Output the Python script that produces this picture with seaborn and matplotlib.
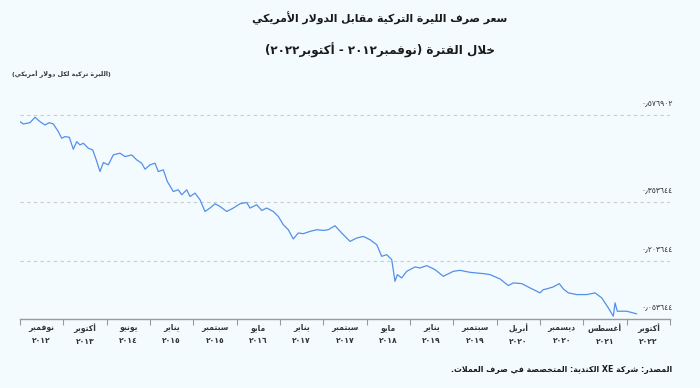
import re
import numpy as np
import pandas as pd
import matplotlib
matplotlib.use("Agg")
import matplotlib.pyplot as plt
import seaborn as sns

sns.set_theme(style="white")
plt.rcParams["font.family"] = ["DejaVu Sans"]

# months since Nov 2012 and USD per TRY
months = [0, 0.64, 1.93, 2.89, 3.86, 4.82, 5.65, 6.42, 7.39, 8.04, 8.68, 9.51, 10.28, 10.94,
          11.57, 12.21, 13.17, 14.02, 14.66, 15.43, 16.07, 17.03, 17.99, 19.29, 20.25, 21.54,
          22.51, 23.47, 24.11, 25.07, 26.04, 26.67, 27.64, 28.41, 29.57, 30.53, 31.19, 32.15,
          32.79, 33.75, 34.72, 35.68, 36.64, 37.61, 38.57, 39.86, 41.14, 42.43, 43.72, 44.36,
          45.65, 46.62, 47.58, 48.85, 49.82, 50.78, 51.75, 52.71, 53.67, 54.64, 55.93, 57.22,
          58.50, 59.46, 60.75, 62.04, 63.65, 64.94, 66.21, 67.50, 68.80, 69.76, 70.72, 71.69,
          72.32, 72.77, 73.62, 74.58, 76.18, 77.15, 78.44, 80.04, 81.64, 83.57, 84.86, 86.79,
          89.35, 90.65, 92.57, 94.18, 95.14, 96.76, 98.36, 100.29, 100.93, 101.58, 102.86,
          104.01, 104.78, 105.75, 107.37, 109.30, 110.90, 112.19, 113.46, 114.43, 114.76,
          115.20, 117.02, 118.94]
rate = [0.5608, 0.5549, 0.5582, 0.5721, 0.5608, 0.5523, 0.5582, 0.5549, 0.5352, 0.5183,
        0.5224, 0.5208, 0.4900, 0.5095, 0.5011, 0.5054, 0.4926, 0.4882, 0.4644, 0.4326,
        0.4557, 0.4498, 0.4754, 0.4798, 0.4710, 0.4754, 0.4626, 0.4541, 0.4387, 0.4498,
        0.4541, 0.4326, 0.4370, 0.4070, 0.3813, 0.3857, 0.3729, 0.3857, 0.3685, 0.3772,
        0.3600, 0.3300, 0.3388, 0.3498, 0.3429, 0.3300, 0.3388, 0.3498, 0.3531, 0.3388,
        0.3472, 0.3326, 0.3388, 0.3300, 0.3172, 0.2959, 0.2831, 0.2593, 0.2747, 0.2729,
        0.2788, 0.2831, 0.2813, 0.2831, 0.2934, 0.2747, 0.2531, 0.2618, 0.2659, 0.2575,
        0.2447, 0.2147, 0.2190, 0.2062, 0.1505, 0.1677, 0.1592, 0.1762, 0.1874, 0.1849,
        0.1908, 0.1805, 0.1633, 0.1762, 0.1787, 0.1736, 0.1703, 0.1677, 0.1567, 0.1395,
        0.1464, 0.1446, 0.1336, 0.1208, 0.1292, 0.1310, 0.1362, 0.1446, 0.1310, 0.1208,
        0.1164, 0.1164, 0.1208, 0.1080, 0.0823, 0.0608, 0.0951, 0.0736, 0.0736, 0.0669]

tick_months = ["نوفمبر", "أكتوبر", "يونيو", "يناير", "سبتمبر", "مايو", "يناير", "سبتمبر",
               "مايو", "يناير", "سبتمبر", "أبريل", "ديسمبر", "أغسطس", "أكتوبر"]
tick_years = ["٢٠١٢", "٢٠١٣", "٢٠١٤", "٢٠١٥", "٢٠١٥", "٢٠١٦", "٢٠١٧", "٢٠١٧",
              "٢٠١٨", "٢٠١٩", "٢٠١٩", "٢٠٢٠", "٢٠٢٠", "٢٠٢١", "٢٠٢٢"]
y_ticks = [0.053644, 0.203644, 0.353644, 0.576902]
y_labels = ["٠٫٠٥٣٦٤٤", "٠٫٢٠٣٦٤٤", "٠٫٣٥٣٦٤٤", "٠٫٥٧٦٩٠٢"]

title = "سعر صرف الليرة التركية مقابل الدولار الأمريكي"
subtitle = "خلال الفترة (نوفمبر٢٠١٢ - أكتوبر٢٠٢٢)"
unit_label = "(الليرة تركية لكل دولار أمريكي)"
source = "المصدر: شركة XE الكندية: المتخصصة في صرف العملات."

# matplotlib does no arabic joining / bidi, so do it by hand
DUAL = {"ب": 0xFE8F, "ت": 0xFE95, "ث": 0xFE99, "ج": 0xFE9D, "ح": 0xFEA1, "خ": 0xFEA5,
        "س": 0xFEB1, "ش": 0xFEB5, "ص": 0xFEB9, "ض": 0xFEBD, "ط": 0xFEC1, "ظ": 0xFEC5,
        "ع": 0xFEC9, "غ": 0xFECD, "ف": 0xFED1, "ق": 0xFED5, "ك": 0xFED9, "ل": 0xFEDD,
        "م": 0xFEE1, "ن": 0xFEE5, "ه": 0xFEE9, "ي": 0xFEF1, "ئ": 0xFE89}
RIGHT = {"ا": 0xFE8D, "أ": 0xFE83, "إ": 0xFE87, "آ": 0xFE81, "ة": 0xFE93, "د": 0xFEA9,
         "ذ": 0xFEAB, "ر": 0xFEAD, "ز": 0xFEAF, "و": 0xFEED, "ى": 0xFEEF, "ؤ": 0xFE85}
LAM_ALEF = {"ا": 0xFEFB, "أ": 0xFEF7, "إ": 0xFEF9, "آ": 0xFEF5}


def shape(s):
    out = []
    i = 0
    while i < len(s):
        c = s[i]
        prev = s[i - 1] if i > 0 else ""
        nxt = s[i + 1] if i + 1 < len(s) else ""
        link_prev = prev in DUAL
        if c == "ل" and nxt in LAM_ALEF:
            out.append(chr(LAM_ALEF[nxt] + (1 if link_prev else 0)))
            i += 2
            continue
        if c in DUAL:
            link_next = nxt in DUAL or nxt in RIGHT
            off = 3 if (link_prev and link_next) else 1 if link_prev else 2 if link_next else 0
            out.append(chr(DUAL[c] + off))
        elif c in RIGHT:
            out.append(chr(RIGHT[c] + (1 if link_prev else 0)))
        else:
            out.append(c)
        i += 1
    return "".join(out)


def ar(text):
    lines = []
    for line in text.split("\n"):
        toks = re.findall(r"[A-Za-z0-9\u0660-\u0669\u066B]+|.", shape(line))
        toks = [{"(": ")", ")": "("}.get(t, t) for t in toks[::-1]]
        lines.append("".join(toks))
    return "\n".join(lines)


bg = "#f4fbfe"
fig = plt.figure(figsize=(7, 3.88), dpi=100, facecolor=bg)
ax = fig.add_axes([20 / 700, 69 / 388, 650 / 700, 209 / 388], facecolor=bg)

df = pd.DataFrame({"month": months, "rate": rate})
sns.lineplot(data=df, x="month", y="rate", ax=ax, color="#5390ea", lw=0.9,
             estimator=None, sort=False)

x_end = 125.36
ax.set_xlim(0, x_end)
ax.set_ylim(0.053644, 0.5908)

for v, lab in zip(y_ticks, y_labels):
    ax.axhline(v, color="#c9cdd0", lw=0.8, ls=(0, (3, 3)), zorder=0)
    ax.annotate(lab, xy=(1, v), xycoords=("axes fraction", "data"), xytext=(2, 9),
                textcoords="offset points", ha="right", va="center", fontsize=5.5,
                color="#333333")

step = x_end / len(tick_months)
ax.set_xticks([(i + 0.5) * step for i in range(len(tick_months))])
ax.set_xticklabels([ar(m) + "\n" + y for m, y in zip(tick_months, tick_years)],
                   fontsize=5.5, fontweight="bold", color="#333333", linespacing=1.6)
ax.set_xticks([i * step for i in range(len(tick_months) + 1)], minor=True)
ax.tick_params(axis="x", which="major", length=0, pad=3)
ax.tick_params(axis="x", which="minor", length=4, color="#999999", width=0.8,
               direction="out", bottom=True)
ax.set_yticks([])
ax.set_xlabel("")
ax.set_ylabel("")
for side in ["top", "right", "left"]:
    ax.spines[side].set_visible(False)
ax.spines["bottom"].set_color("#9a9a9a")
ax.spines["bottom"].set_linewidth(1.0)

fig.text(380 / 700, 1 - 18 / 388, ar(title), ha="center", va="center", fontsize=7.8,
         fontweight="bold", color="#1a1a1a")
fig.text(380 / 700, 1 - 50 / 388, ar(subtitle), ha="center", va="center", fontsize=8.6,
         fontweight="bold", color="#1a1a1a")
fig.text(12 / 700, 1 - 74 / 388, ar(unit_label), ha="left", va="center", fontsize=4.6,
         fontweight="bold", color="#333333")
fig.text(672 / 700, 1 - 370 / 388, ar(source), ha="right", va="center", fontsize=5.7,
         fontweight="bold", color="#1a1a1a")

fig.savefig("out.png", dpi=100, facecolor=bg)
